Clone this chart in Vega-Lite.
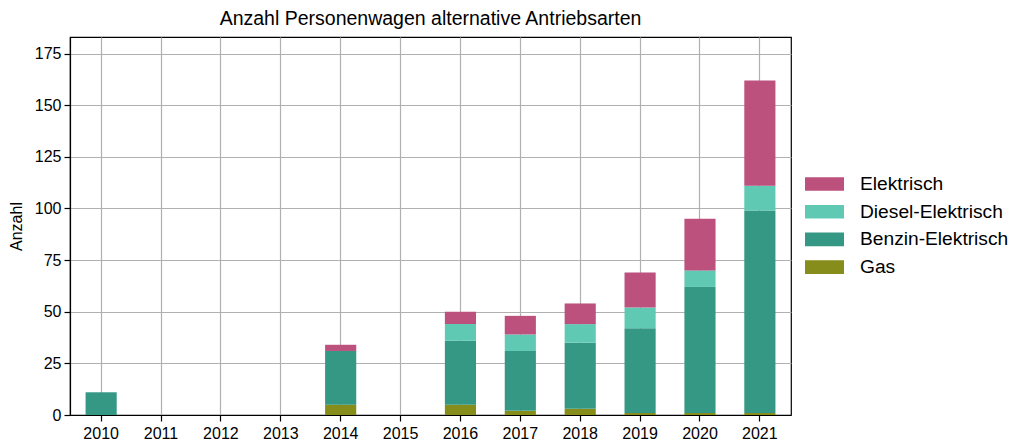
{
  "$schema": "https://vega.github.io/schema/vega-lite/v6.json",
  "width": 721,
  "height": 378,
  "autosize": {"type": "none"},
  "padding": {"left": 70, "top": 37, "right": 221, "bottom": 27},
  "title": {"text": "Anzahl Personenwagen alternative Antriebsarten", "fontSize": 19.5, "font": "Liberation Sans", "fontWeight": "normal", "color": "black", "offset": 8},
  "config": {
    "font": "Liberation Sans",
    "view": {"stroke": "black", "strokeWidth": 1.2},
    "axis": {"gridColor": "#b0b0b0", "gridWidth": 1.2, "domainColor": "black", "domainWidth": 1.2, "tickColor": "black", "tickWidth": 1.2, "tickSize": 6, "labelColor": "black", "labelFontSize": 16, "labelFont": "Liberation Sans", "titleFont": "Liberation Sans", "titleFontWeight": "normal", "titleColor": "black", "titleFontSize": 16}
  },
  "data": {"values": [
    {"Jahr": "2010", "Antrieb": "Benzin-Elektrisch", "Anzahl": 11, "Rang": 2},
    {"Jahr": "2014", "Antrieb": "Gas", "Anzahl": 5, "Rang": 1},
    {"Jahr": "2014", "Antrieb": "Benzin-Elektrisch", "Anzahl": 26, "Rang": 2},
    {"Jahr": "2014", "Antrieb": "Elektrisch", "Anzahl": 3, "Rang": 4},
    {"Jahr": "2016", "Antrieb": "Gas", "Anzahl": 5, "Rang": 1},
    {"Jahr": "2016", "Antrieb": "Benzin-Elektrisch", "Anzahl": 31, "Rang": 2},
    {"Jahr": "2016", "Antrieb": "Diesel-Elektrisch", "Anzahl": 8, "Rang": 3},
    {"Jahr": "2016", "Antrieb": "Elektrisch", "Anzahl": 6, "Rang": 4},
    {"Jahr": "2017", "Antrieb": "Gas", "Anzahl": 2, "Rang": 1},
    {"Jahr": "2017", "Antrieb": "Benzin-Elektrisch", "Anzahl": 29, "Rang": 2},
    {"Jahr": "2017", "Antrieb": "Diesel-Elektrisch", "Anzahl": 8, "Rang": 3},
    {"Jahr": "2017", "Antrieb": "Elektrisch", "Anzahl": 9, "Rang": 4},
    {"Jahr": "2018", "Antrieb": "Gas", "Anzahl": 3, "Rang": 1},
    {"Jahr": "2018", "Antrieb": "Benzin-Elektrisch", "Anzahl": 32, "Rang": 2},
    {"Jahr": "2018", "Antrieb": "Diesel-Elektrisch", "Anzahl": 9, "Rang": 3},
    {"Jahr": "2018", "Antrieb": "Elektrisch", "Anzahl": 10, "Rang": 4},
    {"Jahr": "2019", "Antrieb": "Gas", "Anzahl": 1, "Rang": 1},
    {"Jahr": "2019", "Antrieb": "Benzin-Elektrisch", "Anzahl": 41, "Rang": 2},
    {"Jahr": "2019", "Antrieb": "Diesel-Elektrisch", "Anzahl": 10, "Rang": 3},
    {"Jahr": "2019", "Antrieb": "Elektrisch", "Anzahl": 17, "Rang": 4},
    {"Jahr": "2020", "Antrieb": "Gas", "Anzahl": 1, "Rang": 1},
    {"Jahr": "2020", "Antrieb": "Benzin-Elektrisch", "Anzahl": 61, "Rang": 2},
    {"Jahr": "2020", "Antrieb": "Diesel-Elektrisch", "Anzahl": 8, "Rang": 3},
    {"Jahr": "2020", "Antrieb": "Elektrisch", "Anzahl": 25, "Rang": 4},
    {"Jahr": "2021", "Antrieb": "Gas", "Anzahl": 1, "Rang": 1},
    {"Jahr": "2021", "Antrieb": "Benzin-Elektrisch", "Anzahl": 98, "Rang": 2},
    {"Jahr": "2021", "Antrieb": "Diesel-Elektrisch", "Anzahl": 12, "Rang": 3},
    {"Jahr": "2021", "Antrieb": "Elektrisch", "Anzahl": 51, "Rang": 4}
  ]},
  "mark": {"type": "bar"},
  "encoding": {
    "x": {"field": "Jahr", "type": "ordinal",
      "scale": {"domain": ["2010","2011","2012","2013","2014","2015","2016","2017","2018","2019","2020","2021"], "paddingInner": 0.48, "paddingOuter": 0.26},
      "axis": {"title": null, "labelAngle": 0, "grid": true, "bandPosition": 0.5, "labelPadding": 4}},
    "y": {"field": "Anzahl", "type": "quantitative", "stack": "zero",
      "scale": {"domain": [0, 183], "nice": false},
      "axis": {"title": "Anzahl", "values": [0,25,50,75,100,125,150,175], "grid": true, "labelPadding": 3, "titlePadding": 10}},
    "color": {"field": "Antrieb", "type": "nominal",
      "scale": {"domain": ["Elektrisch", "Diesel-Elektrisch", "Benzin-Elektrisch", "Gas"], "range": ["#bc517e", "#5fc9b4", "#349884", "#878d1b"]},
      "legend": {"title": null, "orient": "none", "legendX": 744.5, "legendY": 137, "symbolType": "M-1.95,-0.68H1.95V0.68H-1.95Z", "symbolSize": 400, "symbolStrokeWidth": 0, "labelFontSize": 19.2, "labelFont": "Liberation Sans", "labelColor": "black", "labelOffset": 25.5, "rowPadding": 6.7}},
    "order": {"field": "Rang", "type": "quantitative", "sort": "ascending"}
  }
}
